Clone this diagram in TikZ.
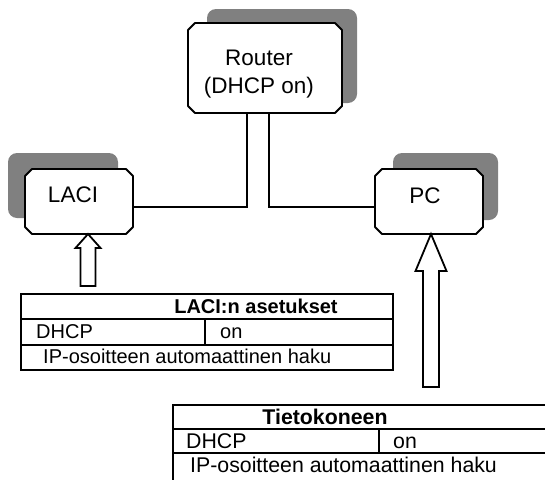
\documentclass[tikz,border=0pt]{standalone}
\usepackage{fontspec}
\setmainfont{Liberation Sans}
\definecolor{shadowgray}{RGB}{128,128,128}
\begin{document}
\begin{tikzpicture}[x=1pt,y=-1pt,
  shadowbox/.style={fill=shadowgray, rounded corners=9pt, inner sep=0pt, outer sep=0pt, draw=none},
  devnode/.style={rectangle, inner sep=0pt, outer sep=0pt, draw=none},
  devoutline/.style={draw=black, fill=white, line width=1.9pt, line join=round},
  devlabel/.style={font=\fontsize{22.5}{28}\selectfont, align=center, inner sep=0pt},
  wire/.style={line width=1.4pt},
  tline/.style={line width=2.2pt},
  ttext/.style={font=\fontsize{20}{24}\selectfont, inner sep=0pt},
  thead/.style={font=\fontsize{20}{24}\selectfont\bfseries, inner sep=0pt},
  ttextb/.style={font=\fontsize{21.3}{25}\selectfont, inner sep=0pt},
  theadb/.style={font=\fontsize{21.3}{25}\selectfont\bfseries, inner sep=0pt},
  blockarrow/.style={draw=black, line width=1.8pt, fill=white, line join=miter}]
\clip (0,0) rectangle (545,479);
% shadows
\node[shadowbox, minimum width=150, minimum height=94] (routershadow) at (282,56) {};
\node[shadowbox, minimum width=110, minimum height=65] (lacishadow) at (63,185.5) {};
\node[shadowbox, minimum width=105, minimum height=67] (pcshadow) at (445.5,186.5) {};
% device boxes
\node[devnode, minimum width=154, minimum height=90] (router) at (265,68) {};
\node[devnode, minimum width=108, minimum height=65] (laci) at (79,201.5) {};
\node[devnode, minimum width=108, minimum height=65] (pc) at (429,201.5) {};
\foreach \n in {router,laci,pc}
  \path[devoutline] ([xshift=7pt]\n.north west) -- ([xshift=-7pt]\n.north east)
    -- ([yshift=-7pt]\n.north east) -- ([yshift=7pt]\n.south east)
    -- ([xshift=-7pt]\n.south east) -- ([xshift=7pt]\n.south west)
    -- ([yshift=7pt]\n.south west) -- ([yshift=-7pt]\n.north west) -- cycle;
\node[devlabel] (routerlabel) at (259,74) {Router\\(DHCP on)};
\node[devlabel] (lacilabel) at (73,195) {LACI};
\node[devlabel] (pclabel) at (425,195.5) {PC};
% connectors
\draw[wire] ([xshift=-18pt]router.south) |- ([yshift=-5.5pt]laci.east);
\draw[wire] ([xshift=4pt]router.south) |- ([yshift=-5.5pt]pc.west);
% table 1
\draw[tline] (21,294) rectangle (393,370);
\draw[tline] (21,319) -- (393,319);
\draw[tline] (21,345) -- (393,345);
\draw[tline] (205,319) -- (205,345);
\node[thead, anchor=base] (t1head) at (256,313) {LACI:n asetukset};
\node[ttext, anchor=base west] (t1dhcp) at (36,338) {DHCP};
\node[ttext, anchor=base west] (t1on) at (220,338) {on};
\node[ttext, anchor=base west] (t1ip) at (43,363) {IP-osoitteen automaattinen haku};
% table 2
\draw[tline] (560,405) -- (173,405) -- (173,490);
\draw[tline] (173,429) -- (560,429);
\draw[tline] (173,453) -- (560,453);
\draw[tline] (379,429) -- (379,453);
\node[theadb, anchor=base] (t2head) at (325,424) {Tietokoneen};
\node[ttextb, anchor=base west] (t2dhcp) at (186,448) {DHCP};
\node[ttextb, anchor=base west] (t2on) at (393,448) {on};
\node[ttextb, anchor=base west] (t2ip) at (190,472) {IP-osoitteen automaattinen haku};
% block arrows
\coordinate (lacitip) at ([xshift=9pt]laci.south);
\draw[blockarrow] (lacitip) -- ++(12.5,14) -- ++(-5,0) -- ++(0,38) -- ++(-15,0)
  -- ++(0,-38) -- ++(-5,0) -- cycle;
\coordinate (pctip) at ([xshift=2pt]pc.south);
\draw[blockarrow] (pctip) -- ++(15.5,37) -- ++(-7.5,0) -- ++(0,116) -- ++(-16,0)
  -- ++(0,-116) -- ++(-7.5,0) -- cycle;
\end{tikzpicture}
\end{document}
